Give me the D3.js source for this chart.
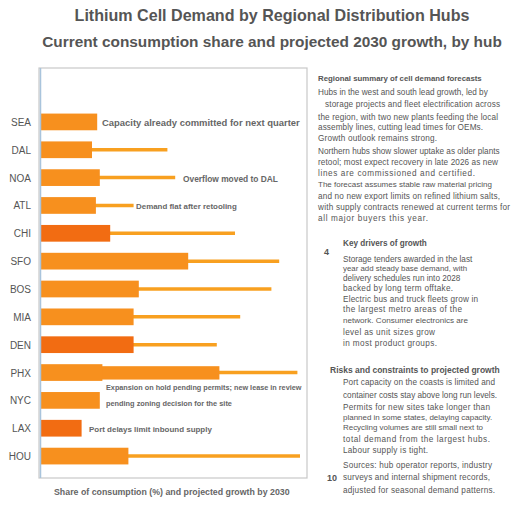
<!DOCTYPE html>
<html>
<head>
<meta charset="utf-8">
<script src="https://cdn.jsdelivr.net/npm/d3@7"></script>
<style>
  body { margin: 0; background: #fff; }
  text { font-family: "Liberation Sans", Arial, sans-serif; }
</style>
</head>
<body>
<div id="chart"></div>
<script>
// rows of the chart, top to bottom
var categories = ["SEA", "DAL", "NOA", "ATL", "CHI", "SFO", "BOS", "MIA", "DEN", "PHX", "NYC", "LAX", "HOU"];
// thick bar = current share, thin line = projected share
var current = [22, 20, 23, 21.5, 27, 57, 38, 36, 36, 24, 23, 16, 34];
var projected = [null, 49, 52, 36, 75, 92, 89, 77, 68, 99, null, null, 100];
// PHX has an intermediate step
var midStep = [null, null, null, null, null, null, null, null, null, 69, null, null, null];
var darker = ["CHI", "DEN", "LAX"];

var titleLines = [
  "Lithium Cell Demand by Regional Distribution Hubs",
  "Current consumption share and projected 2030 growth, by hub"
];
var notes = [
  { row: "SEA", lines: ["Capacity already committed for next quarter"], x: 102, w: [198] },
  { row: "NOA", lines: ["Overflow moved to DAL"], x: 183, w: [95] },
  { row: "ATL", lines: ["Demand flat after retooling"], x: 136, w: [101] },
  { row: "NYC", lines: ["Expansion on hold pending permits; new lease in review",
                        "pending zoning decision for the site"], x: 106, w: [196, 126] },
  { row: "LAX", lines: ["Port delays limit inbound supply"], x: 89, w: [123] }
];
var xCaption = "Share of consumption (%) and projected growth by 2030";

var sideBlocks = [
  { x: 318, marker: null, header: "Regional summary of cell demand forecasts", headEnd: 482,
    lines: [
      "Hubs in the west and south lead growth, led by",
      "storage projects and fleet electrification across",
      "the region, with two new plants feeding the local",
      "assembly lines, cutting lead times for OEMs.",
      "Growth outlook remains strong.",
      "Northern hubs show slower uptake as older plants",
      "retool; most expect recovery in late 2026 as new",
      "lines are commissioned and certified.",
      "The forecast assumes stable raw material pricing",
      "and no new export limits on refined lithium salts,",
      "with supply contracts renewed at current terms for",
      "all major buyers this year."
    ],
    ends: [488, 500, 498, 483, 437, 500, 498, 475, 492, 500, 510, 428],
    ys: [78, 92, 104, 117, 127, 138, 151, 162, 173, 184, 196, 207, 218] },
  { x: 343, marker: "4", header: "Key drivers of growth", headEnd: 427,
    lines: [
      "Storage tenders awarded in the last",
      "year add steady base demand, with",
      "delivery schedules run into 2028",
      "backed by long term offtake.",
      "Electric bus and truck fleets grow in",
      "the largest metro areas of the",
      "network. Consumer electronics are",
      "level as unit sizes grow",
      "in most product groups."
    ],
    ends: [473, 467, 462, 453, 478, 462, 468, 435, 437],
    ys: [243, 259, 268, 278, 288, 299, 309, 320, 332, 343] },
  { x: 330, marker: null, header: "Risks and constraints to projected growth", headEnd: 500,
    lines: [
      "Port capacity on the coasts is limited and",
      "container costs stay above long run levels.",
      "Permits for new sites take longer than",
      "planned in some states, delaying capacity.",
      "Recycling volumes are still small next to",
      "total demand from the largest hubs.",
      "Labour supply is tight."
    ],
    ends: [495, 497, 490, 492, 483, 490, 428],
    ys: [370, 382, 395, 407, 417, 427, 439, 450], indent: 13 },
  { x: 343, marker: "10", header: null,
    lines: [
      "Sources: hub operator reports, industry",
      "surveys and internal shipment records,",
      "adjusted for seasonal demand patterns."
    ],
    ends: [492, 490, 495],
    ys: [465, 477, 490] }
];

var width = 512;
var height = 512;
var frame = { left: 39, top: 68, right: 307, bottom: 478 };

var svg = d3.select("#chart").append("svg")
  .attr("width", width)
  .attr("height", height);

// shrink or grow font so the text takes the wanted width
function fit(sel, target, base, lo, hi) {
  sel.attr("font-size", base);
  var w = sel.node().getComputedTextLength();
  var fs = Math.max(lo, Math.min(hi, base * target / w));
  sel.attr("font-size", fs);
  return sel;
}

// keep the font size, widen letter spacing if short, shrink font if too long
function stretch(sel, target, fs) {
  sel.attr("font-size", fs);
  var w = sel.node().getComputedTextLength();
  if (w > target) {
    sel.attr("font-size", fs * target / w);
  } else if (target - w > 2) {
    sel.attr("textLength", target).attr("lengthAdjust", "spacing");
  }
  return sel;
}

// title
svg.selectAll(".title")
  .data(titleLines)
  .enter()
  .append("text")
  .attr("x", 272)
  .attr("y", function(d, i) { return i === 0 ? 21 : 47; })
  .attr("text-anchor", "middle")
  .attr("font-weight", "bold")
  .attr("fill", "#555")
  .text(function(d) { return d; })
  .each(function(d, i) { fit(d3.select(this), i === 0 ? 395 : 460, 16, 12, 19); });

// frame
svg.append("rect")
  .attr("x", frame.left)
  .attr("y", frame.top)
  .attr("width", frame.right - frame.left)
  .attr("height", frame.bottom - frame.top)
  .attr("fill", "none")
  .attr("stroke", "#c8c8c8")
  .attr("stroke-width", 1.2);

var x = d3.scaleLinear().domain([0, 100]).range([40, 300]);
var y = d3.scaleBand().domain(categories).range([108, 470]).paddingInner(0.4).paddingOuter(0.2);

var color = function(d) { return darker.indexOf(d) >= 0 ? "#f26c12" : "#f7901e"; };

var rows = svg.selectAll(".row")
  .data(categories)
  .enter()
  .append("g")
  .attr("class", "row");

// thin projection lines
rows.filter(function(d, i) { return projected[i] !== null; })
  .append("line")
  .attr("x1", x(0))
  .attr("x2", function(d) { return x(projected[categories.indexOf(d)]); })
  .attr("y1", function(d) { return y(d) + y.bandwidth() / 2; })
  .attr("y2", function(d) { return y(d) + y.bandwidth() / 2; })
  .attr("stroke", "#f8a020")
  .attr("stroke-width", 3.5);

// intermediate step
rows.filter(function(d) { return midStep[categories.indexOf(d)] !== null; })
  .append("rect")
  .attr("x", x(0))
  .attr("y", function(d) { return y(d) + y.bandwidth() * 0.12; })
  .attr("width", function(d) { return x(midStep[categories.indexOf(d)]) - x(0); })
  .attr("height", y.bandwidth() * 0.8)
  .attr("fill", "#f7901e");

// thick bars
rows.append("rect")
  .attr("x", x(0))
  .attr("y", function(d) { return y(d); })
  .attr("width", function(d) { return x(current[categories.indexOf(d)]) - x(0); })
  .attr("height", y.bandwidth())
  .attr("fill", function(d) { return color(d); });

// left axis line
svg.append("line")
  .attr("x1", 40.5).attr("x2", 40.5)
  .attr("y1", frame.top).attr("y2", frame.bottom)
  .attr("stroke", "#a9c4dc")
  .attr("stroke-width", 1.5);

// category labels
svg.selectAll(".cat")
  .data(categories)
  .enter()
  .append("text")
  .attr("x", 31)
  .attr("y", function(d) { return y(d) + y.bandwidth() / 2 + 4; })
  .attr("text-anchor", "end")
  .attr("font-size", 10)
  .attr("fill", "#555")
  .text(function(d) { return d; });

// notes in plot
notes.forEach(function(n) {
  n.lines.forEach(function(line, j) {
    var cy = y(n.row) + y.bandwidth() / 2 + 4;
    if (n.lines.length > 1) cy = y(n.row) + y.bandwidth() / 2 - 10 + j * 16;
    var t = svg.append("text")
      .attr("x", n.x)
      .attr("y", cy)
      .attr("font-weight", "bold")
      .attr("fill", "#666")
      .text(line);
    stretch(t, n.w[j], 9.5);
  });
});

// x caption
fit(svg.append("text")
  .attr("x", 54)
  .attr("y", 495)
  .attr("font-weight", "bold")
  .attr("fill", "#666")
  .text(xCaption), 236, 11, 8, 12);

// side text
sideBlocks.forEach(function(b) {
  var ys = b.ys;
  var k = 0;
  if (b.header) {
    stretch(svg.append("text")
      .attr("x", b.x)
      .attr("y", ys[0] + 3)
      .attr("font-weight", "bold")
      .attr("fill", "#555")
      .text(b.header), b.headEnd - b.x, 8.5);
    k = 1;
  }
  b.lines.forEach(function(line, j) {
    var lx = b.x + (b.indent || 0) + (j === 1 && b.x === 318 ? 7 : 0);
    stretch(svg.append("text")
      .attr("x", lx)
      .attr("y", ys[j + k] + 3)
      .attr("fill", "#555")
      .text(line), b.ends[j] - lx, 8.2);
  });
  if (b.marker) {
    svg.append("text")
      .attr("x", b.marker === "4" ? 324 : 327)
      .attr("y", b.marker === "4" ? 255 : 481)
      .attr("font-size", 9)
      .attr("font-weight", "bold")
      .attr("fill", "#555")
      .text(b.marker);
  }
});
</script>
</body>
</html>
